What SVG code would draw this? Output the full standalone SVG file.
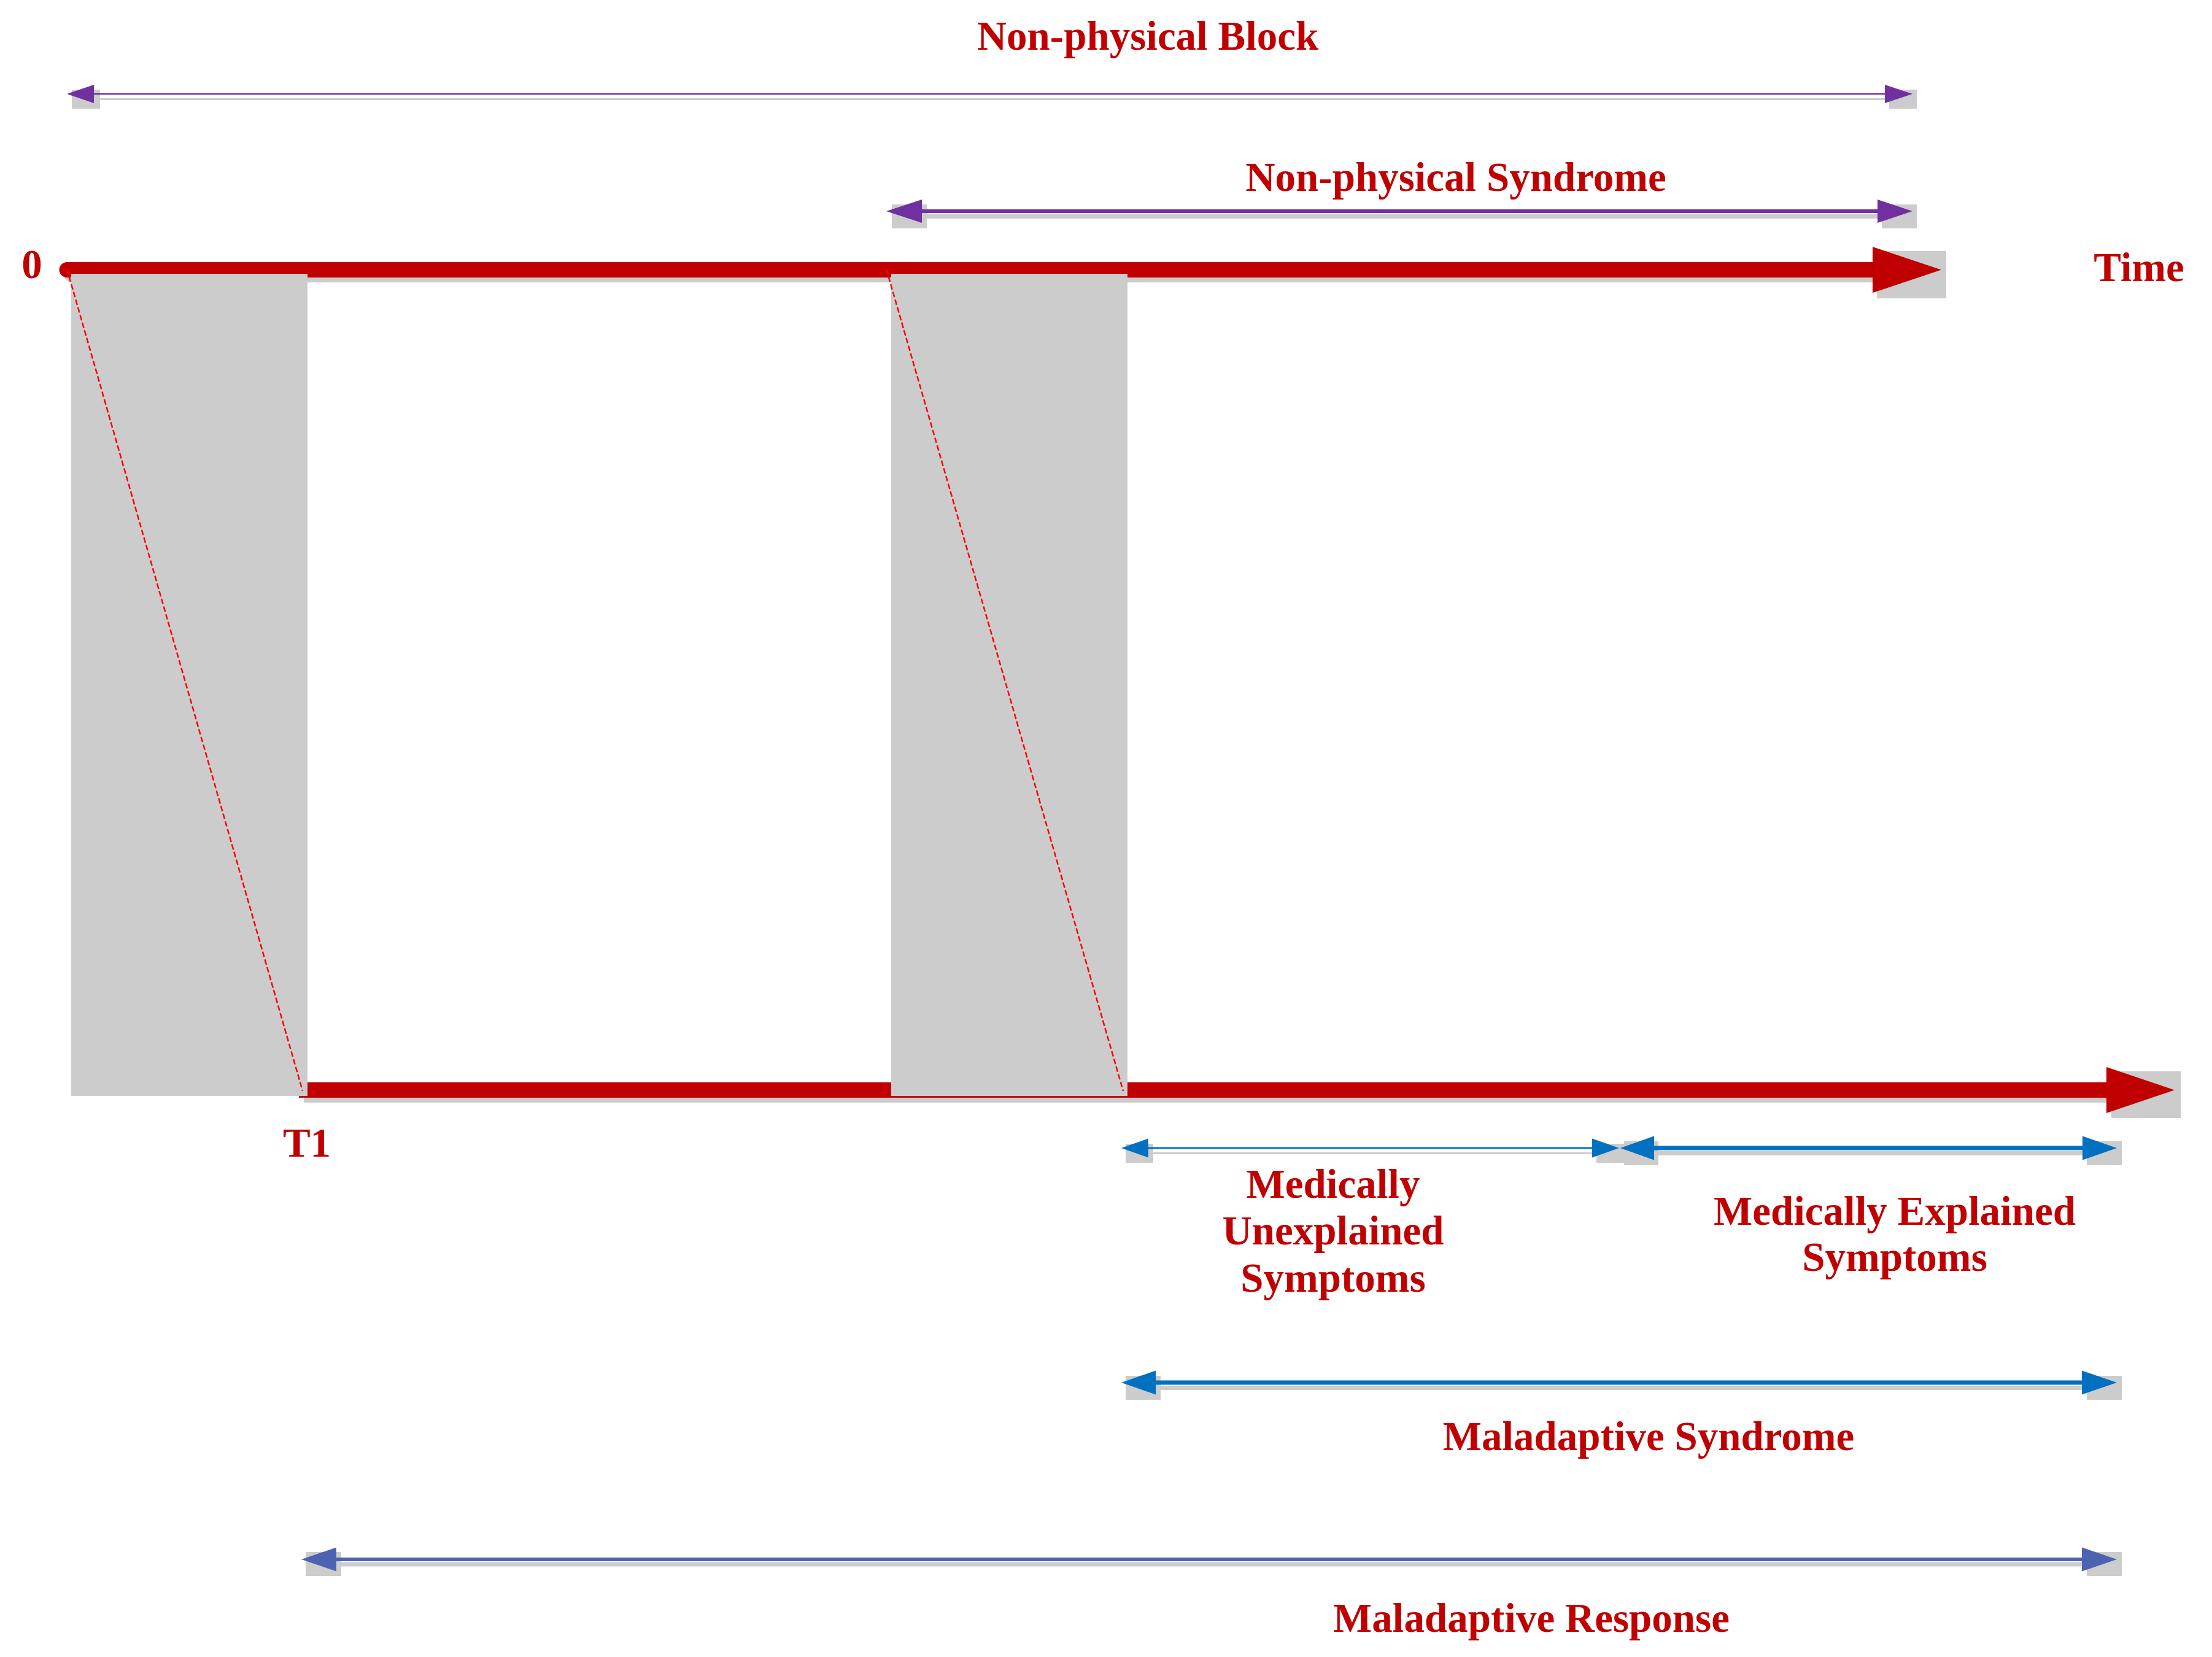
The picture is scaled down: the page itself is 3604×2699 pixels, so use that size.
<svg xmlns="http://www.w3.org/2000/svg" width="3604" height="2699" viewBox="0 0 3604 2699">
<style>
.bg{fill:#FFFFFF}
.blk{fill:#CCCCCC}
.sh{fill:#CCCCCC}
.shl{stroke:#CCCCCC;fill:none}
.dash{stroke:#FF0000;stroke-width:2.5;stroke-dasharray:9 4;fill:none}
.lbl{font-family:"Liberation Serif","Times New Roman",serif;font-weight:bold;font-size:67px;fill:#C00000;text-anchor:middle}
.red{stroke:#C00000;fill:none}
.redh{fill:#C00000}
.pur{stroke:#7030A0;fill:none}
.purh{fill:#7030A0}
.blu{stroke:#0070C0;fill:none}
.bluh{fill:#0070C0}
.sla{stroke:#4B63B0;fill:none}
.slah{fill:#4B63B0}
</style>
<rect class="bg" x="0" y="0" width="3604" height="2699"/>

<g id="connectors">
  <g id="axis-top">
    <line class="shl" x1="117" y1="447.5" x2="3060" y2="447.5" stroke-width="25" stroke-linecap="round"/>
    <rect class="sh" x="3058" y="409" width="113" height="77"/>
    <line class="red" x1="109" y1="439.5" x2="3055" y2="439.5" stroke-width="25" stroke-linecap="round"/>
    <polygon class="redh" points="3051,402 3163,439.5 3051,477"/>
  </g>
  <g id="axis-bottom">
    <line class="shl" x1="495" y1="1783.5" x2="3440" y2="1783.5" stroke-width="25"/>
    <rect class="sh" x="3440" y="1745" width="113" height="76"/>
    <line class="red" x1="487" y1="1775.5" x2="3435" y2="1775.5" stroke-width="25"/>
    <polygon class="redh" points="3432,1738 3543,1775.5 3432,1813"/>
  </g>
</g>

<g id="block-1">
  <rect class="blk" x="116" y="446" width="385" height="1339"/>
  <line class="dash" x1="109" y1="438" x2="493" y2="1777"/>
</g>
<g id="block-2">
  <rect class="blk" x="1452" y="446" width="385" height="1339"/>
  <line class="dash" x1="1444" y1="438" x2="1830" y2="1777"/>
</g>

<g id="spans">
  <g id="span-npb">
    <line class="shl" x1="150" y1="161.5" x2="3078" y2="161.5" stroke-width="3"/>
    <rect class="sh" x="117" y="146" width="46" height="31"/>
    <rect class="sh" x="3078" y="146" width="45" height="31"/>
    <line class="pur" x1="150" y1="153" x2="3075" y2="153" stroke-width="2.5"/>
    <polygon class="purh" points="109,153 153,138 153,168"/>
    <polygon class="purh" points="3116,153 3071,138 3071,168"/>
  </g>
  <g id="span-nps">
    <line class="shl" x1="1505" y1="352.5" x2="3066" y2="352.5" stroke-width="7"/>
    <rect class="sh" x="1453" y="333" width="57" height="39"/>
    <rect class="sh" x="3066" y="333" width="57" height="39"/>
    <line class="pur" x1="1498" y1="344" x2="3062" y2="344" stroke-width="6"/>
    <polygon class="purh" points="1444,344 1502,325 1502,363"/>
    <polygon class="purh" points="3116,344 3059,325 3059,363"/>
  </g>
  <g id="span-mus">
    <line class="shl" x1="1875" y1="1878.5" x2="2601" y2="1878.5" stroke-width="3"/>
    <rect class="sh" x="1834" y="1863" width="45" height="31"/>
    <rect class="sh" x="2601" y="1863" width="45" height="31"/>
    <line class="blu" x1="1868" y1="1870" x2="2598" y2="1870" stroke-width="3"/>
    <polygon class="bluh" points="1827,1870 1871,1854.5 1871,1885.5"/>
    <polygon class="bluh" points="2638,1870 2594,1854.5 2594,1885.5"/>
  </g>
  <g id="span-mes">
    <line class="shl" x1="2700" y1="1878.5" x2="3400" y2="1878.5" stroke-width="7"/>
    <rect class="sh" x="2646" y="1859" width="56" height="39"/>
    <rect class="sh" x="3400" y="1859" width="57" height="39"/>
    <line class="blu" x1="2690" y1="1870" x2="3397" y2="1870" stroke-width="7"/>
    <polygon class="bluh" points="2640,1870 2695,1850.5 2695,1889.5"/>
    <polygon class="bluh" points="3449,1870 3393,1850.5 3393,1889.5"/>
  </g>
  <g id="span-ms">
    <line class="shl" x1="1888" y1="2260.5" x2="3400" y2="2260.5" stroke-width="7"/>
    <rect class="sh" x="1834" y="2241" width="57" height="39"/>
    <rect class="sh" x="3400" y="2241" width="57" height="39"/>
    <line class="blu" x1="1880" y1="2252" x2="3396" y2="2252" stroke-width="7"/>
    <polygon class="bluh" points="1827,2252 1883,2232.5 1883,2271.5"/>
    <polygon class="bluh" points="3449,2252 3392,2232.5 3392,2271.5"/>
  </g>
  <g id="span-mr">
    <line class="shl" x1="553" y1="2548" x2="3400" y2="2548" stroke-width="7"/>
    <rect class="sh" x="498" y="2528" width="58" height="39"/>
    <rect class="sh" x="3400" y="2528" width="57" height="39"/>
    <line class="sla" x1="545" y1="2540" x2="3396" y2="2540" stroke-width="6"/>
    <polygon class="slah" points="491,2540 548,2520.5 548,2559.5"/>
    <polygon class="slah" points="3449,2540 3392,2520.5 3392,2559.5"/>
  </g>
</g>

<g id="labels">
  <text id="lbl-npb" class="lbl" x="1870" y="81">Non-physical Block</text>
  <text id="lbl-nps" class="lbl" x="2372" y="311">Non-physical Syndrome</text>
  <text id="lbl-zero" class="lbl" x="52" y="453">0</text>
  <text id="lbl-time" class="lbl" x="3485" y="458">Time</text>
  <text id="lbl-t1" class="lbl" x="500" y="1884">T1</text>
  <text id="lbl-mus" class="lbl" x="2172" y="1951">Medically<tspan x="2172" y="2027">Unexplained</tspan><tspan x="2172" y="2104">Symptoms</tspan></text>
  <text id="lbl-mes" class="lbl" x="3087" y="1995">Medically Explained<tspan x="3087" y="2070">Symptoms</tspan></text>
  <text id="lbl-ms" class="lbl" x="2686" y="2362">Maladaptive Syndrome</text>
  <text id="lbl-mr" class="lbl" x="2495" y="2658">Maladaptive Response</text>
</g>
</svg>
